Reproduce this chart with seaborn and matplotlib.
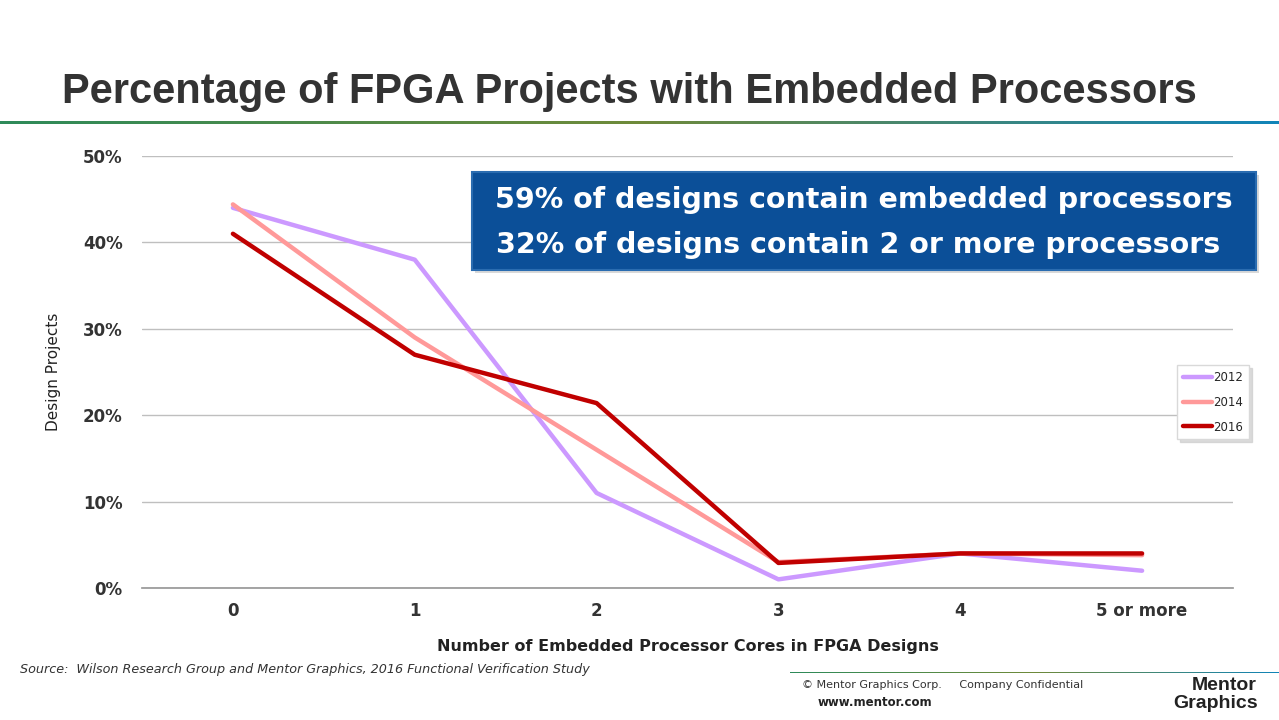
import matplotlib
matplotlib.use("Agg")
from matplotlib import pyplot as plt
from matplotlib.patches import FancyBboxPatch, Rectangle
import matplotlib.ticker as mticker
import numpy as np
import pandas as pd
import seaborn as sns

# data
categories = ["0", "1", "2", "3", "4", "5 or more"]
years = ["2012", "2014", "2016"]
pct_2012 = [0.44, 0.38, 0.11, 0.01, 0.04, 0.02]
pct_2014 = [0.444, 0.29, 0.16, 0.03, 0.04, 0.038]
pct_2016 = [0.41, 0.27, 0.214, 0.029, 0.04, 0.04]
colors = ["#cc99ff", "#ff9999", "#c00000"]

df = pd.DataFrame({
    "cores": categories * 3,
    "pct": pct_2012 + pct_2014 + pct_2016,
    "year": sum([[y] * len(categories) for y in years], []),
})

sns.set_theme(style="white")
plt.rcParams["font.family"] = ["DejaVu Sans"]

fig = plt.figure(figsize=(12.79, 7.2), dpi=100)
ax = fig.add_axes([142 / 1279, 1 - 588 / 720, (1233 - 142) / 1279, 432 / 720])

sns.lineplot(data=df, x="cores", y="pct", hue="year", palette=colors,
             linewidth=3.2, ax=ax, sort=False)

ax.set_xlim(-0.5, 5.5)
ax.set_ylim(0, 0.5)
ax.yaxis.set_major_locator(mticker.MultipleLocator(0.1))
ax.yaxis.set_major_formatter(mticker.PercentFormatter(1.0, decimals=0))
ax.grid(axis="y", color="#bfbfbf", linewidth=1)
ax.set_axisbelow(True)
for side in ["left", "right", "top"]:
    ax.spines[side].set_visible(False)
ax.spines["bottom"].set_color("#999999")
ax.xaxis.set_minor_locator(mticker.FixedLocator(np.arange(-0.5, 6, 1)))
ax.tick_params(axis="x", which="major", length=0, pad=10)
ax.tick_params(axis="x", which="minor", length=7, color="#999999", direction="out")
ax.tick_params(axis="y", length=0, pad=14)
for lab in ax.get_xticklabels() + ax.get_yticklabels():
    lab.set_fontweight("bold")
    lab.set_fontsize(12)
    lab.set_color("#333333")

ax.set_xlabel("Number of Embedded Processor Cores in FPGA Designs",
              fontsize=11.5, fontweight="bold", color="#222222", labelpad=14)
ax.set_ylabel("Design Projects", fontsize=11, color="#222222", labelpad=16)

leg = ax.legend(loc="center left", bbox_to_anchor=(0.949, 0.43), fontsize=8.5,
                frameon=True, fancybox=False, shadow={"color": "#cccccc", "alpha": 0.7},
                handlelength=2.4, handletextpad=0.15, labelspacing=1.0,
                borderpad=0.5, borderaxespad=0, edgecolor="#d9d9d9")
for line in leg.get_lines():
    line.set_linewidth(3.2)

# title and header rule
fig.text(0.4925, 1 - 92 / 720, "Percentage of FPGA Projects with Embedded Processors",
         ha="center", va="center", fontsize=30, fontweight="bold", color="#333333",
         family="Liberation Sans")
grad = np.linspace(0, 1, 256).reshape(1, -1)
cmap = matplotlib.colors.LinearSegmentedColormap.from_list(
    "rule", ["#2e8b5a", "#6f8a3a", "#1184b8"])
rule_ax = fig.add_axes([0, 1 - 124 / 720, 1, 3 / 720])
rule_ax.imshow(grad, aspect="auto", cmap=cmap)
rule_ax.axis("off")

# call-out box
box = FancyBboxPatch((472 / 1279, 1 - 270 / 720), (1256 - 472) / 1279, 98 / 720,
                     boxstyle="square,pad=0", transform=fig.transFigure,
                     facecolor="#0b4f98", edgecolor="#2a6cb0", linewidth=1.5)
shadow = Rectangle((475 / 1279, 1 - 273 / 720), (1256 - 472) / 1279, 98 / 720,
                   transform=fig.transFigure, facecolor="#c0c0c0", edgecolor="none",
                   alpha=0.6)
fig.patches.extend([shadow, box])
fig.text(864 / 1279, 1 - 200 / 720, "59% of designs contain embedded processors",
         ha="center", va="center", fontsize=20.5, fontweight="bold", color="white")
fig.text(858 / 1279, 1 - 245 / 720, "32% of designs contain 2 or more processors",
         ha="center", va="center", fontsize=20.5, fontweight="bold", color="white")

# footer
fig.text(20 / 1279, 1 - 670 / 720,
         "Source:  Wilson Research Group and Mentor Graphics, 2016 Functional Verification Study",
         ha="left", va="center", fontsize=9.2, style="italic", color="#333333")
foot_ax = fig.add_axes([790 / 1279, 1 - 673 / 720, 489 / 1279, 1.5 / 720])
foot_ax.imshow(grad, aspect="auto", cmap=cmap)
foot_ax.axis("off")
fig.text(802 / 1279, 1 - 685 / 720, "© Mentor Graphics Corp.     Company Confidential",
         ha="left", va="center", fontsize=8, color="#333333")
fig.text(818 / 1279, 1 - 702 / 720, "www.mentor.com",
         ha="left", va="center", fontsize=8.5, fontweight="bold", color="#222222")
fig.text(1224 / 1279, 1 - 686 / 720, "Mentor", ha="center", va="center",
         fontsize=14, fontweight="bold", color="#222222", family="Liberation Sans")
fig.text(1216 / 1279, 1 - 703 / 720, "Graphics", ha="center", va="center",
         fontsize=14, fontweight="bold", color="#222222", family="Liberation Sans")

fig.savefig("out.png", dpi=100)
